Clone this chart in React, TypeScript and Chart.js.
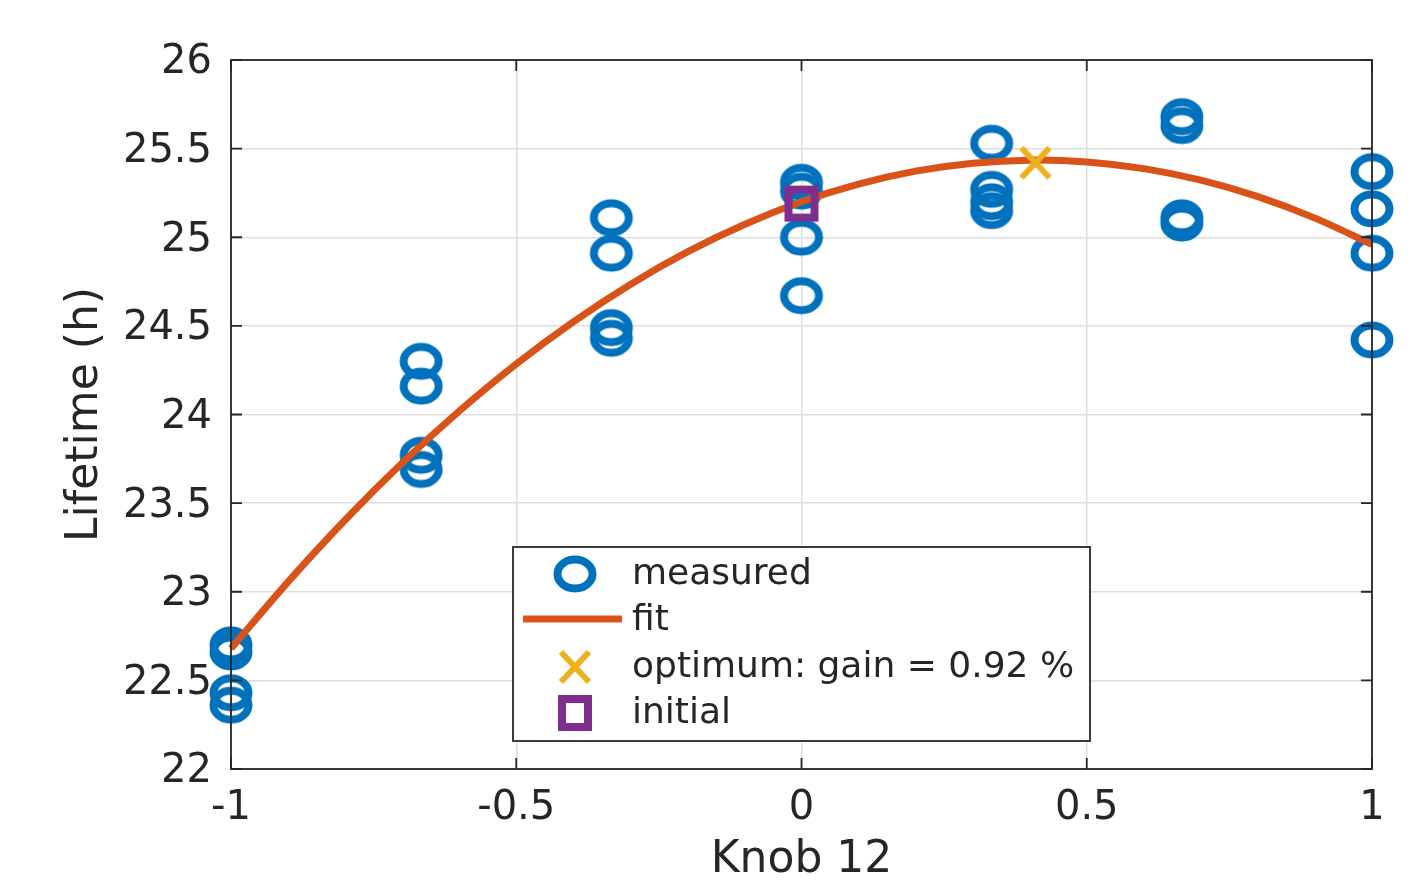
import React, { useEffect, useRef } from 'react';
import { Chart, registerables } from 'chart.js';

Chart.register(...registerables);

// ---- data ----
const knobPositions = [-1, -0.6667, -0.3333, 0, 0.3333, 0.6667, 1];
const measuredAtM100 = [22.7, 22.66, 22.43, 22.36];
const measuredAtM067 = [24.3, 24.16, 23.77, 23.69];
const measuredAtM033 = [25.11, 24.91, 24.49, 24.43];
const measuredAt000 = [25.31, 25.26, 25.0, 24.67];
const measuredAt033 = [25.53, 25.27, 25.2, 25.15];
const measuredAt067 = [25.68, 25.63, 25.11, 25.08];
const measuredAt100 = [25.37, 25.16, 24.91, 24.42];
const measuredGroups = [
  measuredAtM100,
  measuredAtM067,
  measuredAtM033,
  measuredAt000,
  measuredAt033,
  measuredAt067,
  measuredAt100,
];

const fitX = [-1, -0.9, -0.8, -0.7, -0.6, -0.5, -0.4, -0.3, -0.2, -0.1, 0, 0.1, 0.2, 0.3, 0.4, 0.5, 0.6, 0.7, 0.8, 0.9, 1];
const fitY = [22.68, 23.056, 23.405, 23.726, 24.019, 24.285, 24.523, 24.734, 24.917, 25.072, 25.2, 25.3, 25.373, 25.418, 25.435, 25.425, 25.387, 25.322, 25.229, 25.108, 24.96];

const optimumX = [0.41];
const optimumY = [25.42];
const initialX = [0];
const initialY = [25.19];

const xTickValues = [-1, -0.5, 0, 0.5, 1];
const xTickLabels = ['-1', '-0.5', '0', '0.5', '1'];
const yTickValues = [22, 22.5, 23, 23.5, 24, 24.5, 25, 25.5, 26];
const yTickLabels = ['22', '22.5', '23', '23.5', '24', '24.5', '25', '25.5', '26'];

const legendLabels = ['measured', 'fit', 'optimum: gain = 0.92 %', 'initial'];

const C_BLUE = '#0072BD';
const C_ORANGE = '#D95319';
const C_YELLOW = '#EDB120';
const C_PURPLE = '#7E2F8E';
const C_TEXT = '#262626';
const FONT = '"DejaVu Sans", "Liberation Sans", sans-serif';

function makeRing(): HTMLCanvasElement {
  const c = document.createElement('canvas');
  c.width = 50;
  c.height = 44;
  const g = c.getContext('2d')!;
  g.strokeStyle = C_BLUE;
  g.lineWidth = 8;
  g.beginPath();
  g.ellipse(25, 22, 17.5, 14.5, 0, 0, Math.PI * 2);
  g.stroke();
  return c;
}
function makeSquare(): HTMLCanvasElement {
  const c = document.createElement('canvas');
  c.width = 38;
  c.height = 38;
  const g = c.getContext('2d')!;
  g.strokeStyle = C_PURPLE;
  g.lineWidth = 8;
  g.strokeRect(6, 5, 26, 28);
  return c;
}
function makeCross(): HTMLCanvasElement {
  const c = document.createElement('canvas');
  c.width = 38;
  c.height = 38;
  const g = c.getContext('2d')!;
  g.strokeStyle = C_YELLOW;
  g.lineWidth = 6;
  g.beginPath();
  g.moveTo(5, 4);
  g.lineTo(33, 34);
  g.moveTo(33, 4);
  g.lineTo(5, 34);
  g.stroke();
  return c;
}

export default function App() {
  const ref = useRef<HTMLCanvasElement | null>(null);

  useEffect(() => {
    if (!ref.current) return;
    const ring = makeRing();
    const square = makeSquare();
    const cross = makeCross();

    const measuredPts: { x: number; y: number }[] = [];
    measuredGroups.forEach((g, i) => g.forEach((y) => measuredPts.push({ x: knobPositions[i], y })));

    const framePlugin = {
      id: 'frameAndLegend',
      afterDraw(chart: any) {
        const ctx = chart.ctx as CanvasRenderingContext2D;
        const a = chart.chartArea;
        const xs = chart.scales.x;
        const ys = chart.scales.y;
        ctx.save();
        ctx.strokeStyle = C_TEXT;
        ctx.lineWidth = 1.8;
        ctx.strokeRect(a.left, a.top, a.right - a.left, a.bottom - a.top);
        ctx.beginPath();
        const tl = 11;
        xTickValues.forEach((v) => {
          const px = xs.getPixelForValue(v);
          ctx.moveTo(px, a.bottom);
          ctx.lineTo(px, a.bottom - tl);
          ctx.moveTo(px, a.top);
          ctx.lineTo(px, a.top + tl);
        });
        yTickValues.forEach((v) => {
          const py = ys.getPixelForValue(v);
          ctx.moveTo(a.left, py);
          ctx.lineTo(a.left + tl, py);
          ctx.moveTo(a.right, py);
          ctx.lineTo(a.right - tl, py);
        });
        ctx.stroke();

        // legend
        const bx = 513, by = 547, bw = 577, bh = 194;
        ctx.fillStyle = '#ffffff';
        ctx.fillRect(bx, by, bw, bh);
        ctx.strokeStyle = C_TEXT;
        ctx.lineWidth = 1.8;
        ctx.strokeRect(bx, by, bw, bh);
        const rows = [574, 620, 667, 713];
        const mx = 575;
        ctx.drawImage(ring, mx - ring.width / 2, rows[0] - ring.height / 2);
        ctx.strokeStyle = C_ORANGE;
        ctx.lineWidth = 7;
        ctx.beginPath();
        ctx.moveTo(523, rows[1] - 1);
        ctx.lineTo(622, rows[1] - 1);
        ctx.stroke();
        ctx.drawImage(cross, mx - cross.width / 2, rows[2] - cross.height / 2);
        ctx.drawImage(square, mx - square.width / 2, rows[3] - square.height / 2);
        ctx.fillStyle = C_TEXT;
        ctx.font = `36px ${FONT}`;
        ctx.textAlign = 'left';
        ctx.textBaseline = 'middle';
        legendLabels.forEach((t, i) => ctx.fillText(t, 632, rows[i] + 1));
        ctx.restore();
      },
    };

    const chart = new Chart(ref.current, {
      type: 'scatter',
      data: {
        datasets: [
          {
            label: legendLabels[3],
            data: initialX.map((x, i) => ({ x, y: initialY[i] })),
            pointStyle: square as any,
            pointRadius: 17,
            order: 0,
            clip: false as any,
          },
          {
            label: legendLabels[2],
            data: optimumX.map((x, i) => ({ x, y: optimumY[i] })),
            pointStyle: cross as any,
            pointRadius: 17,
            order: 1,
            clip: false as any,
          },
          {
            label: legendLabels[1],
            type: 'line' as any,
            data: fitX.map((x, i) => ({ x, y: fitY[i] })),
            borderColor: C_ORANGE,
            borderWidth: 7,
            pointRadius: 0,
            showLine: true,
            tension: 0.3,
            fill: false,
            order: 2,
            clip: false as any,
          } as any,
          {
            label: legendLabels[0],
            data: measuredPts,
            pointStyle: ring as any,
            pointRadius: 20,
            order: 3,
            clip: false as any,
          },
        ],
      },
      options: {
        responsive: false,
        animation: false,
        events: [],
        layout: { padding: { left: 0, right: 52, top: 60, bottom: 0 } },
        plugins: { legend: { display: false }, tooltip: { enabled: false } },
        scales: {
          x: {
            type: 'linear',
            min: -1,
            max: 1,
            afterFit(scale: any) {
              scale.height = 113;
            },
            afterBuildTicks(scale: any) {
              scale.ticks = xTickValues.map((v) => ({ value: v }));
            },
            ticks: {
              autoSkip: false,
              maxRotation: 0,
              padding: 16,
              color: C_TEXT,
              font: { family: FONT, size: 40 },
              callback: (v: any) => {
                const i = xTickValues.findIndex((t) => Math.abs(t - Number(v)) < 1e-9);
                return i >= 0 ? xTickLabels[i] : String(v);
              },
            },
            grid: { color: '#dedede', lineWidth: 1.5, drawTicks: false },
            border: { display: false },
            title: {
              display: true,
              text: 'Knob 12',
              color: C_TEXT,
              font: { family: FONT, size: 44 },
              padding: { top: 0, bottom: -5 },
            },
          },
          y: {
            type: 'linear',
            min: 22,
            max: 26,
            afterFit(scale: any) {
              scale.width = 231;
            },
            afterBuildTicks(scale: any) {
              scale.ticks = yTickValues.map((v) => ({ value: v }));
            },
            ticks: {
              autoSkip: false,
              padding: 19,
              labelOffset: 3,
              color: C_TEXT,
              font: { family: FONT, size: 40 },
              callback: (v: any) => {
                const i = yTickValues.findIndex((t) => Math.abs(t - Number(v)) < 1e-9);
                return i >= 0 ? yTickLabels[i] : String(v);
              },
            },
            grid: { color: '#dedede', lineWidth: 1.5, drawTicks: false },
            border: { display: false },
            title: {
              display: true,
              text: 'Lifetime (h)',
              color: C_TEXT,
              font: { family: FONT, size: 44 },
              padding: { top: 59, bottom: 0 },
            },
          },
        },
      },
      plugins: [framePlugin],
    });

    return () => chart.destroy();
  }, []);

  return (
    <div style={{ position: 'fixed', left: 0, top: 0, width: 1424, height: 882, background: '#ffffff' }}>
      <canvas ref={ref} width={1424} height={882} />
    </div>
  );
}
